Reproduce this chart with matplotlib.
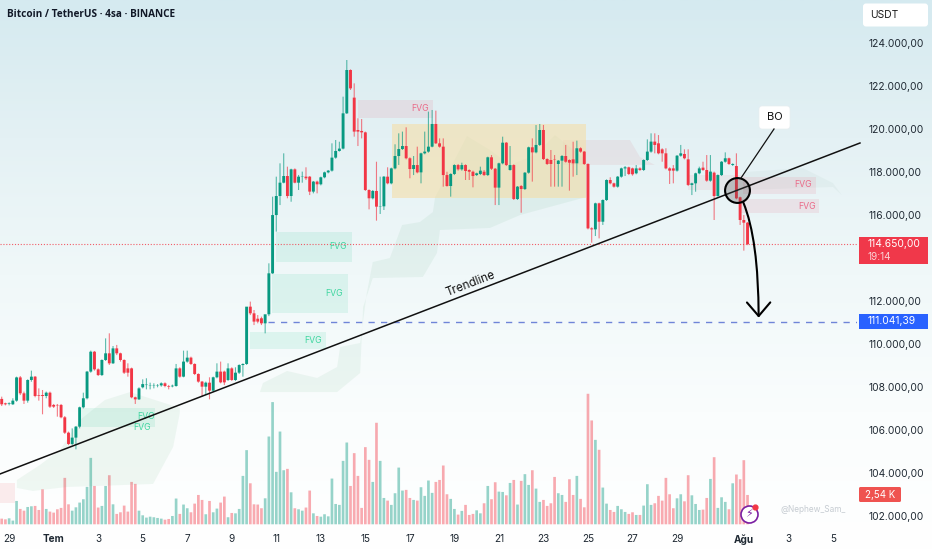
import numpy as np
import matplotlib
matplotlib.use("Agg")
import matplotlib.pyplot as plt
from matplotlib.colors import LinearSegmentedColormap
from matplotlib.patches import FancyArrowPatch, FancyBboxPatch, Rectangle

plt.rcParams['font.family'] = ['Inter', 'DejaVu Sans']

## Candles (BTCUSDT 4h)
opens = [107450,107245,107215,107200,107370,108450,107710,107370,108330,108485,107630,107630,107585,107740,107170,107170,107170,106595,105880,105355,
105650,106160,107060,107480,108720,109645,108825,108560,109260,109570,109105,109800,109570,109260,108870,108870,107525,107430,107990,108095,
108080,108080,108080,108080,108175,108050,108035,108050,108870,108485,109185,109370,109075,108610,108255,108020,108205,107835,108455,108720,
108720,108330,108870,108330,108670,109025,109075,111740,111430,111180,111200,110965,111385,113290,116000,116885,117505,117815,116885,118125,
117505,117785,117785,117785,117090,117555,117430,117755,117985,118065,118670,118980,119090,120730,122745,121460,119955,119910,119845,117165,
116780,117120,116390,116405,117785,117475,118170,118745,119070,119210,118640,118140,118325,117985,118870,118950,119180,120235,119335,119180,
117860,117350,117910,118325,118125,118325,118095,118015,117860,117910,118015,117860,118685,118155,117275,118405,119365,118095,118325,116745,
117350,117210,117970,119150,118915,119260,119955,118605,118560,118590,118375,118530,118745,118560,118590,118405,119105,118950,118375,115380,
115335,116545,115690,116700,117630,117475,117320,117785,118170,118220,118170,117940,118170,118095,118560,118950,119415,119335,119055,118870,
118170,118170,118065,118760,118840,118590,117400,117475,117940,118205,118095,117600,117970,116885,117860,118480,118640,118330,118280,116825,
115770,115645]
highs = [107555,107275,107290,107480,108485,108515,107790,108360,108765,108515,107940,107865,107790,107790,107215,107215,107215,106655,105930,106080,
106190,107090,107740,108750,109695,109680,108870,109290,110265,110500,109910,109960,109600,109290,109105,108905,107555,107990,108360,108410,
108205,108175,108140,108220,108220,108100,108115,109075,108920,109695,109695,109415,109105,108640,108285,108255,108455,108485,109105,109185,
108765,109105,108920,108920,109060,109105,109130,111975,111585,111350,111275,111000,113755,116855,117785,118405,118870,118250,118155,118170,
117865,118020,118220,117815,117585,117600,117785,118020,118095,119335,119490,119410,121505,123210,122775,122125,120500,120465,119880,117195,
117165,118480,117785,117815,118220,118205,119290,119800,119880,120080,118685,118745,119180,118900,119880,120810,120885,120855,119565,119565,
118015,117940,118360,118375,118435,118360,118125,118065,117970,118250,118095,118715,118790,118190,118435,119645,119395,119210,118360,117350,
117395,118000,119180,119565,120185,120235,120190,118640,119025,118790,118560,118790,119260,118590,119410,119460,119150,118980,118405,115430,
116575,116575,116730,117660,117755,117505,117815,118205,118280,118250,118205,118325,118220,118590,119520,119800,119800,119720,119105,119105,
118220,118325,118790,119260,119055,119055,117505,117970,118250,118480,118790,118790,118020,117890,118510,118915,118670,118405,118870,116855,
116000,115675]
lows = [107120,107150,107150,107170,107320,107630,107215,107275,108250,107525,107370,106735,107480,107030,107030,106625,106550,105820,105305,105305,
105105,106080,107010,107430,108670,108765,108515,108515,109215,109030,109075,109490,109185,108610,108485,107480,107215,107400,107940,107895,
107895,107940,107990,108020,107990,107895,107990,108020,108440,108455,109135,109030,108560,108205,107555,107630,107430,107790,108410,108175,
108095,108285,108285,108285,108610,108485,109030,111350,110885,110965,110885,110500,111300,113260,115230,116465,117475,116780,116620,117475,
117165,117505,117630,116930,117010,117010,117380,117710,117940,118020,118620,118950,119055,120700,121815,119645,119210,119565,117120,116265,
116730,115740,116050,116235,117430,117430,118125,118330,119025,118590,117710,117860,117940,117475,118825,118900,119150,119305,119135,117320,
117320,116855,117860,118065,118065,117630,117630,117290,117815,117860,117815,117815,118095,116465,116465,118360,118280,118065,116700,116700,
116110,117165,117925,117555,118870,119210,118560,118330,117320,117320,117320,117320,118435,117135,117785,117860,118900,118330,115335,114715,
115025,114915,115540,116655,117430,117275,117275,117740,117815,117860,117830,117895,118050,118050,118515,118900,118870,118825,118480,118125,
117445,117475,118020,118715,118590,117350,116930,117085,117895,118050,117550,117550,115770,116855,117815,118435,118330,118280,116730,115540,
114345,114600]
closes = [107200,107200,107245,107370,108450,107710,107370,108330,108485,107585,107600,107585,107740,107090,107090,107150,106595,105880,105355,105650,
106160,107060,107480,108720,109645,108825,108560,109260,109570,109105,109800,109570,109260,108670,108670,107525,107430,107940,108140,108115,
108095,108095,108095,108175,108050,108020,108065,108870,108485,109185,109370,109075,108610,108255,108020,108205,107835,108455,108720,108220,
108220,108870,108330,108670,109025,109075,111740,111430,111045,111045,110965,111385,113290,116000,116885,117505,117815,116885,118125,117505,
117785,117800,117710,117090,117555,117430,117755,117985,118065,118670,118980,119090,120730,122745,121890,119880,119880,119845,117165,116780,
117120,116390,116405,117785,117475,118170,118745,119070,119210,118640,118140,118325,117985,118870,118950,119180,120235,119335,119180,117860,
117350,117910,118325,118125,118325,118050,118015,117815,117940,118065,117860,118685,118155,117275,118405,119365,118325,118325,116745,117320,
117210,117970,119150,118915,119260,119955,118605,118375,118375,118575,118530,118745,118480,118435,118405,119105,118950,118375,115380,115335,
116545,115690,116700,117630,117475,117320,117785,118170,118220,117910,117895,118170,118095,118560,118950,119415,119260,118870,118870,118170,
118065,118065,118760,118870,118640,117400,117475,117940,118170,118095,117600,118020,116885,117860,118480,118640,118375,118375,116775,115770,
115645,114650]

volumes = [.49,.43,.52,.32,2.02,1.33,1.18,1.50,1.56,1.59,1.24,3.03,1.33,1.10,1.01,1.30,1.42,4.02,1.73,1.18,
1.47,1.88,2.17,3.24,5.75,3.32,1.45,1.59,3.32,4.25,1.73,.90,1.04,1.62,1.10,3.67,3.50,1.18,.78,.58,
.66,.61,.55,.49,.40,.46,.72,2.23,.90,1.71,1.39,1.04,1.79,2.54,2.11,.87,2.02,1.04,1.36,1.88,
2.40,.61,.98,.95,1.33,4.19,6.42,3.55,1.73,1.71,1.39,2.25,7.60,10.58,4.54,8.03,4.68,4.80,2.77,1.39,
1.30,1.18,1.45,2.92,.95,.72,.66,.87,.69,3.96,1.76,1.68,5.49,7.08,3.32,6.16,4.19,1.42,6.68,5.58,
3.67,8.79,5.49,2.28,2.05,1.68,2.69,4.91,2.92,2.98,2.28,2.11,2.05,3.21,2.46,3.79,2.72,3.67,3.84,5.09,
2.60,2.20,1.33,.84,1.16,1.68,.81,.90,1.21,.95,1.82,3.32,2.17,3.64,2.83,2.80,2.51,3.58,3.84,1.71,
3.76,4.34,3.41,4.68,3.09,1.94,2.11,1.59,1.82,4.10,2.69,2.54,1.94,3.90,2.54,4.19,2.20,1.47,11.30,8.99,
7.31,6.45,3.18,1.79,1.24,1.07,1.59,1.30,1.07,.90,1.04,.81,.81,1.62,3.47,1.68,1.82,2.46,2.05,4.02,
2.60,1.39,2.25,2.60,1.99,4.25,2.51,1.76,1.24,1.27,2.28,3.93,5.81,1.42,2.34,1.94,1.30,3.55,4.31,3.90,
5.55,2.54]

## Axes
day_pos = [2,14,26,38,50,62,74,86,98,110,122,134,146,158,170,182,200,212,224]
day_labels = ['29','Tem','3','5','7','9','11','13','15','17','19','21','23','25','27','29','Ağu','3','5']
price_ticks = [124000,122000,120000,118000,116000,112000,110000,108000,106000,104000,102000]
last_price = 114650
target_price = 111041.39

## Drawn zones: [start bar, end bar, top price, bottom price]
zone_box = [105.2,157.5,120235,116790]
fvg_green = [[73.9,94.4,115210,113815],[72.8,93.3,113260,111445],[66.9,87.4,110560,109770],[21.6,41.3,107030,106145]]
fvg_red = [[96,116.2,121350,120510],[199.8,219.4,117770,116980],[199,220.2,116745,116095]]
fvg_green_txt = [[90.6,114515],[89.5,112330],[83.9,110145],[38.9,106655],[37.8,106100]]
fvg_red_txt = [[112.7,120975],[215.9,117400],[217,116420]]

cloud_a_x = [4.1,10.3,15.7,21.1,27.8,34.6,41.3,48,48,46.2,40.8,17.6,8.4,4.1]
cloud_a_p = [103680,104380,105075,106470,107400,107770,107400,107030,106795,105215,103495,103355,103170,103310]
cloud_b_x = [70.4,76.9,85,90.4,91.2,96.6,98.4,100,104.6,107.9,112.7,116.2,116.8,125.4,131.6,137,143.7,149.1,157.5,157.5,139.7,131.6,118.1,117.3,113.5,100,97.4,96.6,90.4,69.6]
cloud_b_p = [108190,108750,108425,108935,109865,110050,112375,113815,114000,115535,115675,116140,116835,119670,119020,118325,118790,119720,118560,116835,116000,115400,115305,114235,113120,113070,111720,108655,107770,107770]
cloud_c_x = [151.3,169.3,172,176,151.3]
cloud_c_p = [119490,119490,118700,118330,118330]
cloud_d_x = [185,200.3,200.3,185]
cloud_d_p = [117860,117860,117165,117165]
cloud_e_x = [200.3,215.9,224,226.4,224,200.3]
cloud_e_p = [118000,118185,117490,116930,117305,117165]
cloud_f_x = [-0.5,3.6,3.6,-0.5]
cloud_f_p = [103540,103540,102610,102610]

trend_x = [-0.46,231.3]
trend_p = [103960,119350]

opens = np.array(opens)
closes = np.array(closes)
highs = np.array(highs)
lows = np.array(lows)
bars = np.arange(len(opens))
up = closes >= opens

GREEN = '#089981'
RED = '#f23645'

fig = plt.figure(figsize=(9.32,5.5), dpi=100)

# fond degrade
bg = fig.add_axes([0,0,1,1], zorder=0)
grad = LinearSegmentedColormap.from_list('g', ['#d5eaf0','#e4f1f4','#f0f8f9','#fafdfd','#ffffff'])
bg.imshow(np.linspace(0,1,256).reshape(-1,1), aspect='auto', cmap=grad)
bg.axis('off')

# volumes
vol = fig.add_axes([0,23/550,857/932,527/550], zorder=1)
vol.patch.set_alpha(0)
for mask, col in [(up,GREEN),(~up,RED)]:
    for r in vol.bar(bars[mask], np.array(volumes)[mask], width=0.72, color=col, alpha=0.42, lw=0):
        r.set_snap(False)
vol.set_xlim(-0.46,230.5)
vol.set_ylim(-0.234,45.39)
vol.axis('off')

# prix
ax = fig.add_axes([0,23/550,857/932,527/550], zorder=2)
ax.patch.set_alpha(0)
ax.set_xlim(-0.46,230.5)
ax.set_ylim(101494,126000)
for s in ax.spines.values():
    s.set_visible(False)

for cx, cp, col, al in [(cloud_a_x,cloud_a_p,'#4ea56f',.08),(cloud_b_x,cloud_b_p,'#4ea56f',.08),
                        (cloud_c_x,cloud_c_p,'#d9808f',.12),(cloud_d_x,cloud_d_p,'#d9808f',.10),
                        (cloud_e_x,cloud_e_p,'#7fa896',.07),(cloud_f_x,cloud_f_p,'#ef7f8a',.15)]:
    ax.fill(cx, cp, color=col, alpha=al, lw=0, zorder=1)

ax.add_patch(Rectangle((zone_box[0],zone_box[3]), zone_box[1]-zone_box[0], zone_box[2]-zone_box[3],
                       color='#f5deA8', alpha=.6, lw=0, zorder=1.5))
for z in fvg_green:
    ax.add_patch(Rectangle((z[0],z[3]), z[1]-z[0], z[2]-z[3], color='#22c78e', alpha=.11, lw=0, zorder=2))
for z in fvg_red:
    ax.add_patch(Rectangle((z[0],z[3]), z[1]-z[0], z[2]-z[3], color='#e8798f', alpha=.14, lw=0, zorder=2))
for t in fvg_green_txt:
    ax.text(t[0], t[1], 'FVG', color='#3fd6a0', fontsize=6.3, ha='center', va='center', zorder=3)
for t in fvg_red_txt:
    ax.text(t[0], t[1], 'FVG', color='#ea6a88', fontsize=6.3, ha='center', va='center', zorder=3)

ax.axhline(last_price, color=RED, lw=0.8, ls=(0,(1,1.6)), alpha=.8, zorder=3)
ax.plot([71.8,230.5], [target_price,target_price], color='#6f84d8', lw=1, ls=(0,(4.5,4.5)), zorder=3)

# bougies
for mask, col in [(up,GREEN),(~up,RED)]:
    w = ax.vlines(bars[mask], lows[mask], highs[mask], color=col, lw=0.8, alpha=.65, zorder=4)
    w.set_snap(False)
    for r in ax.bar(bars[mask], (closes-opens)[mask], bottom=opens[mask], width=0.78, color=col, lw=0, zorder=5):
        r.set_snap(False)

# annotations
ax.plot(trend_x, trend_p, color='#111111', lw=1.1, clip_on=False, zorder=6)
ax.text(126.5, 112800, 'Trendline', fontsize=8.4, color='#111111', rotation=21,
        rotation_mode='anchor', ha='center', va='center', zorder=6)
ax.scatter([198.1], [117165], s=320, facecolor=(0.3,0.3,0.3,.28), edgecolor='black', lw=1.5, zorder=7)
ax.add_patch(FancyArrowPatch((199.6,116690), (204,111100), connectionstyle='angle3,angleA=-66,angleB=90',
                             arrowstyle='->,head_length=7,head_width=6', color='black', lw=1.5,
                             mutation_scale=1.4, zorder=7))

ax.set_xticks(day_pos)
ax.set_xticklabels(day_labels, fontsize=7.2, color='#1f2933')
for lab, txt in zip(ax.get_xticklabels(), day_labels):
    if txt in ('Tem','Ağu'):
        lab.set_fontweight('bold')
ax.yaxis.tick_right()
ax.set_yticks(price_ticks)
ax.set_yticklabels([f"{p:,.2f}".replace(',','X').replace('.',',').replace('X','.') for p in price_ticks],
                   fontsize=7.4, color='#1f2933')
ax.tick_params(length=0, axis='x', pad=5)
ax.tick_params(length=0, axis='y', pad=8.6)

# texte et etiquettes, en pixels de l'image
top = fig.add_axes([0,0,1,1], zorder=3)
top.set_xlim(0,932)
top.set_ylim(550,0)
top.axis('off')
top.text(7, 14.5, 'Bitcoin / TetherUS · 4sa · BINANCE', family='Open Sans', fontweight='bold',
         fontsize=7.2, color='#111827', va='center')
top.add_patch(FancyBboxPatch((863,3.5), 65, 23, boxstyle='round,pad=0,rounding_size=3', fc='white', ec='none'))
top.text(870, 15, 'USDT', fontsize=7.4, color='#1a1a1a', va='center')
top.add_patch(Rectangle((859,237), 69, 27, fc='#f0384a', ec='none'))
top.text(868, 244, '114.650,00', fontsize=7.4, color='white', va='center')
top.text(868, 256.5, '19:14', fontsize=7.2, color='#fbd0d4', va='center')
top.add_patch(Rectangle((859,314), 69, 15, fc='#2962ff', ec='none'))
top.text(868, 321.5, '111.041,39', fontsize=7.4, color='white', va='center')
top.add_patch(FancyBboxPatch((859,487), 42, 15, boxstyle='round,pad=0,rounding_size=1.5', fc='#ef5350', ec='none'))
top.text(880, 495, '2,54 K', fontsize=7, color='white', va='center', ha='center')
top.plot([774,741], [129,178], color='#111111', lw=0.9)
top.add_patch(FancyBboxPatch((759,106), 31, 23, boxstyle='round,pad=0,rounding_size=3', fc='white', ec='#e8eef0', lw=0.5))
top.text(774.5, 117.5, 'BO', fontsize=8, color='#111111', ha='center', va='center')
top.text(813, 509, '@Nephew_Sam_', fontsize=6, color='#c6ccd2', ha='center', va='center')
top.scatter([749], [514], s=150, facecolor='white', edgecolor='#7b1fa2', lw=1.2, zorder=3)
top.text(749, 514, '⚡', family='DejaVu Sans', fontsize=8, color='#7b1fa2', ha='center', va='center', zorder=4)
top.scatter([755], [507], s=12, color='#f23645', zorder=5)

fig.savefig('out.png', dpi=100)
